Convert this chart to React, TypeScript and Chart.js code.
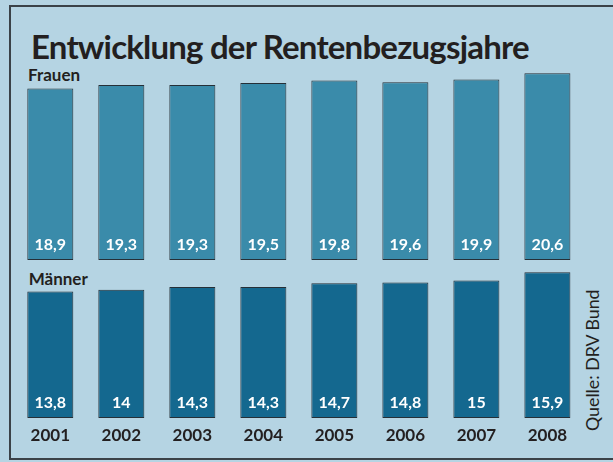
import React, { useEffect, useRef } from "react";
import { Chart, registerables } from "chart.js";

Chart.register(...registerables);

const years = ["2001", "2002", "2003", "2004", "2005", "2006", "2007", "2008"];
const frauen = [18.9, 19.3, 19.3, 19.5, 19.8, 19.6, 19.9, 20.6];
const maenner = [13.8, 14, 14.3, 14.3, 14.7, 14.8, 15, 15.9];
const titleText = "Entwicklung der Rentenbezugsjahre";
const frauenLabel = "Frauen";
const maennerLabel = "Männer";
const sourceText = "Quelle: DRV Bund";

const BG = "#b5d4e3";
const FRAUEN_COLOR = "#3a8baa";
const MAENNER_COLOR = "#14688f";
const TEXT = "#231f20";
const FONT = "Lato, 'Noto Sans', sans-serif";

const valueLabels = {
  id: "valueLabels",
  afterDatasetsDraw(chart: any) {
    const ctx = chart.ctx;
    const meta = chart.getDatasetMeta(0);
    const data = chart.data.datasets[0].data as number[];
    ctx.save();
    ctx.fillStyle = "#ffffff";
    ctx.font = `bold 16px ${FONT}`;
    ctx.textAlign = "center";
    ctx.textBaseline = "middle";
    meta.data.forEach((bar: any, i: number) => {
      const p = bar.getProps(["x", "base"], true);
      ctx.fillText(String(data[i]).replace(".", ","), p.x, p.base - 15);
    });
    ctx.restore();
  },
};

function makeChart(
  canvas: HTMLCanvasElement,
  values: number[],
  color: string,
  max: number,
  showX: boolean,
  padding: { left: number; right: number; top: number; bottom: number }
) {
  return new Chart(canvas, {
    type: "bar",
    data: {
      labels: years,
      datasets: [
        {
          data: values,
          backgroundColor: color,
          borderColor: "rgba(30,38,45,0.95)",
          borderWidth: 1,
          borderSkipped: false,
          categoryPercentage: 1,
          barPercentage: 0.648,
        },
      ],
    },
    options: {
      responsive: false,
      maintainAspectRatio: false,
      animation: false,
      events: [],
      layout: { padding },
      plugins: {
        legend: { display: false },
        tooltip: { enabled: false },
        title: { display: false },
      },
      scales: {
        x: {
          display: showX,
          grid: { display: false, drawTicks: false },
          border: { display: false },
          ticks: {
            color: TEXT,
            font: { family: FONT, size: 17, weight: "bold" },
            padding: 7,
          },
        },
        y: { display: false, min: 0, max },
      },
    },
    plugins: [valueLabels],
  });
}

export default function App() {
  const refF = useRef<HTMLCanvasElement>(null);
  const refM = useRef<HTMLCanvasElement>(null);

  useEffect(() => {
    const c1 = makeChart(refF.current!, frauen, FRAUEN_COLOR, 21, false, {
      left: 14.8,
      right: 30.1,
      top: 9.5,
      bottom: 2,
    });
    const c2 = makeChart(refM.current!, maenner, MAENNER_COLOR, 16, true, {
      left: 14.8,
      right: 30.1,
      top: 9.4,
      bottom: 9.5,
    });
    return () => {
      c1.destroy();
      c2.destroy();
    };
  }, []);

  const abs: React.CSSProperties = { position: "absolute", whiteSpace: "nowrap", lineHeight: 1, color: TEXT, fontFamily: FONT };

  return (
    <div
      style={{
        position: "fixed",
        left: 0,
        top: 0,
        width: 613,
        height: 462,
        overflow: "hidden",
        background: BG,
      }}
    >
      <div
        style={{
          position: "absolute",
          left: 9,
          top: 5,
          width: 640,
          height: 455,
          border: "2px solid #3b4248",
          boxSizing: "border-box",
        }}
      />
      <div style={{ ...abs, left: 31, top: 30, fontSize: 33, fontWeight: 700, letterSpacing: "-0.8px" }}>{titleText}</div>
      <div style={{ ...abs, left: 28, top: 65.6, fontSize: 17, fontWeight: 700 }}>{frauenLabel}</div>
      <div style={{ ...abs, left: 28.7, top: 269.9, fontSize: 17, fontWeight: 700 }}>{maennerLabel}</div>
      <div
        style={{
          ...abs,
          left: 583.8,
          top: 431,
          fontSize: 17.8,
          fontWeight: 400,
          transformOrigin: "0 0",
          transform: "rotate(-90deg)",
        }}
      >
        {sourceText}
      </div>
      <canvas
        ref={refF}
        width={613}
        height={202}
        style={{ position: "absolute", left: 0, top: 60, width: 613, height: 202 }}
      />
      <canvas
        ref={refM}
        width={613}
        height={200}
        style={{ position: "absolute", left: 0, top: 262, width: 613, height: 200 }}
      />
    </div>
  );
}
